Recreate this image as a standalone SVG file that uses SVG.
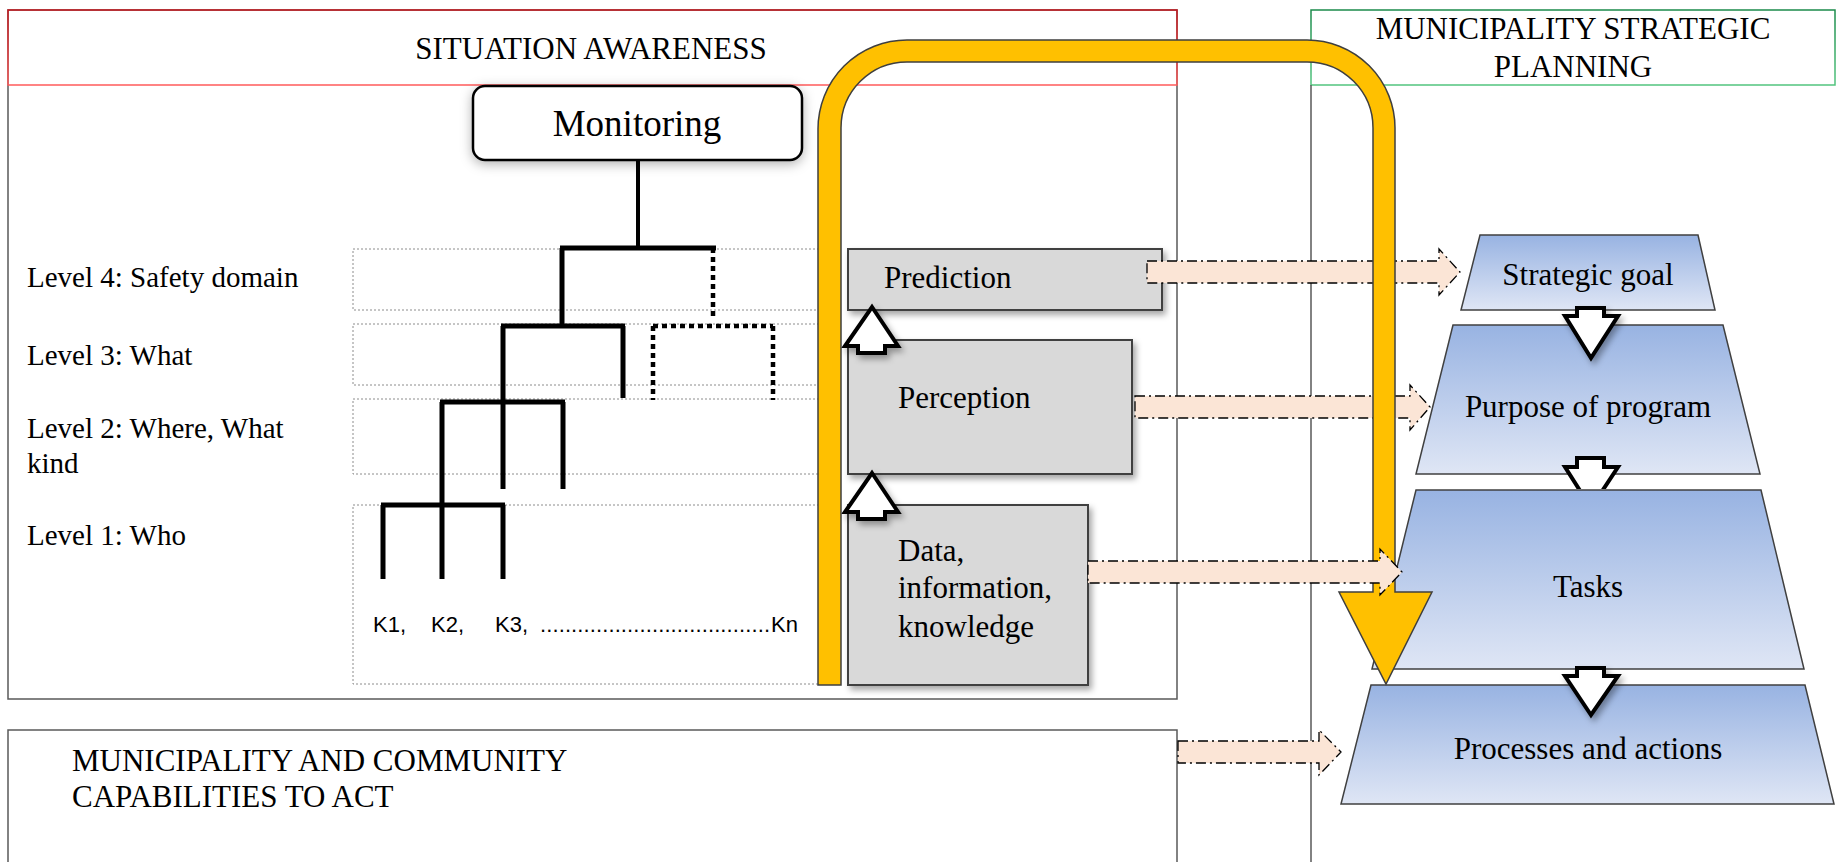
<svg xmlns="http://www.w3.org/2000/svg" width="1843" height="862" viewBox="0 0 1843 862">
<style>
text{font-family:"Liberation Serif","Times New Roman",serif;fill:#000}
.t31{font-size:31px}
.lvl{font-size:29px}
.frame{fill:none;stroke:#595959;stroke-width:1.5}
.band{fill:none;stroke:#8c8c8c;stroke-width:1;stroke-dasharray:2 2}
.tree{fill:none;stroke:#000;stroke-width:5;stroke-linecap:butt}
.dot{fill:none;stroke:#000;stroke-width:4.5;stroke-dasharray:5 4}
.gray{fill:#d9d9d9;stroke:#404040;stroke-width:2}
.trap{fill:url(#blue);stroke:#404040;stroke-width:1.5}
.hollow{fill:#fff;stroke:#000;stroke-width:4;stroke-linejoin:miter}
.peach{fill:#fbe5d6;stroke:#000;stroke-width:1.3;stroke-dasharray:10 4 2 4}
.mid{text-anchor:middle}
</style>
<defs>
<linearGradient id="blue" x1="0" y1="0" x2="0" y2="1">
<stop offset="0" stop-color="#98b3e2"/>
<stop offset="1" stop-color="#dfe6f5"/>
</linearGradient>
<linearGradient id="redg" x1="0" y1="0" x2="0" y2="1">
<stop offset="0" stop-color="#c8161d"/>
<stop offset="1" stop-color="#ff5a5a"/>
</linearGradient>
<linearGradient id="greeng" x1="0" y1="0" x2="0" y2="1">
<stop offset="0" stop-color="#1a8a4a"/>
<stop offset="1" stop-color="#52c47e"/>
</linearGradient>
<filter id="sh" x="-20%" y="-20%" width="150%" height="160%">
<feDropShadow dx="3" dy="4" stdDeviation="3" flood-color="#000" flood-opacity="0.35"/>
</filter>
<filter id="glow" x="-20%" y="-30%" width="140%" height="170%">
<feDropShadow dx="0" dy="3" stdDeviation="6" flood-color="#000" flood-opacity="0.3"/>
</filter>
<clipPath id="clipA2"><rect x="1540" y="440" width="100" height="49"/></clipPath>
</defs>

<g id="frames">
<rect class="frame" x="8" y="10" width="1169" height="689"/>
<rect x="8" y="10" width="1169" height="75" fill="none" stroke="url(#redg)" stroke-width="1.5"/>
<rect x="1311" y="10" width="524" height="75" fill="none" stroke="url(#greeng)" stroke-width="1.5"/>
<line x1="1311" y1="85" x2="1311" y2="862" stroke="#595959" stroke-width="1.5"/>
<rect class="frame" x="8" y="730" width="1169" height="150"/>
</g>

<g id="titles">
<text class="t31 mid" x="591" y="59">SITUATION AWARENESS</text>
<text class="t31 mid" x="1573" y="39">MUNICIPALITY STRATEGIC</text>
<text class="t31 mid" x="1573" y="77">PLANNING</text>
<text class="t31" x="72" y="771">MUNICIPALITY AND COMMUNITY</text>
<text class="t31" x="72" y="807">CAPABILITIES TO ACT</text>
</g>

<g id="levels">
<rect class="band" x="353" y="249" width="467" height="61"/>
<rect class="band" x="353" y="324" width="467" height="61"/>
<rect class="band" x="353" y="399" width="467" height="75"/>
<rect class="band" x="353" y="505" width="467" height="179"/>
<text class="lvl" x="27" y="287">Level 4: Safety domain</text>
<text class="lvl" x="27" y="365">Level 3: What</text>
<text class="lvl" x="27" y="438">Level 2: Where, What</text>
<text class="lvl" x="27" y="473">kind</text>
<text class="lvl" x="27" y="545">Level 1: Who</text>
</g>

<g id="tree">
<path d="M638,160 V248" fill="none" stroke="#000" stroke-width="4"/>
<path class="tree" d="M560,248 H716 M562,248 V326 M501,326 H625 M503,326 V489 M623,326 V398 M440,402 H565 M442,402 V579 M563,402 V489 M381,505 H505 M383,505 V579 M503,505 V579"/>
<path class="dot" d="M713,248 V318 M653,326 H773 M653,326 V400 M773,326 V400"/>
</g>

<g id="k-items">
<text x="373" y="632" style="font-family:'Liberation Sans',Arial,sans-serif;font-size:22px">K1,<tspan x="431">K2,</tspan><tspan x="495">K3,</tspan><tspan x="540" textLength="230" lengthAdjust="spacing">.....................................</tspan><tspan x="771">Kn</tspan></text>
</g>

<g id="monitoring">
<rect x="473" y="86" width="329" height="74" rx="12" fill="#fff" stroke="#000" stroke-width="2.5" filter="url(#glow)"/>
<text class="mid" x="637" y="136" style="font-size:37px">Monitoring</text>
</g>

<g id="prediction">
<rect class="gray" x="848" y="249" width="314" height="61" filter="url(#sh)"/>
<text class="t31" x="884" y="288">Prediction</text>
</g>
<g id="perception">
<rect class="gray" x="848" y="340" width="284" height="134" filter="url(#sh)"/>
<text class="t31" x="898" y="408">Perception</text>
</g>
<g id="data">
<rect class="gray" x="848" y="505" width="240" height="180" filter="url(#sh)"/>
<text class="t31" x="898" y="561">Data,</text>
<text class="t31" x="898" y="598">information,</text>
<text class="t31" x="898" y="637">knowledge</text>
</g>

<g id="strategic-goal">
<polygon class="trap" points="1480,235 1698,235 1715,310 1461,310"/>
<text class="t31 mid" x="1588" y="285">Strategic goal</text>
</g>
<g id="purpose">
<polygon class="trap" points="1453,325 1723,325 1760,474 1416,474"/>
<text class="t31 mid" x="1588" y="417">Purpose of program</text>
</g>
<g id="tasks">
<polygon class="trap" points="1416,490 1761,490 1804,669 1372,669"/>
<text class="t31 mid" x="1588" y="597">Tasks</text>
</g>
<g id="processes">
<polygon class="trap" points="1371,685 1805,685 1834,804 1341,804"/>
<text class="t31 mid" x="1588" y="759">Processes and actions</text>
</g>

<g id="connectors">
<path class="hollow" filter="url(#sh)" d="M872,307 L898,346 H885 V353 H858 V346 H845 Z"/>
<path class="hollow" filter="url(#sh)" d="M872,473 L898,512 H885 V519 H858 V512 H845 Z"/>
<path class="hollow" filter="url(#sh)" d="M1577,308 H1604 V316 H1618 L1591,358 L1565,316 H1577 Z"/>
<g clip-path="url(#clipA2)"><path class="hollow" d="M1577,458 H1604 V467 H1618 L1591,508 L1565,467 H1577 Z"/></g>
<path class="hollow" filter="url(#sh)" d="M1577,668 H1604 V676 H1618 L1591,715 L1565,676 H1577 Z"/>
<path class="peach" d="M1147,261 H1439 V249 L1460,272 L1439,295 V283 H1147 Z"/>
<path class="peach" d="M1135,396 H1410 V385 L1430,407 L1410,430 V418 H1135 Z"/>
<path d="M818,685 V129 A89,89 0 0 1 907,40 H1307 A88,88 0 0 1 1395,128 V592 H1432 L1386,684 L1339,592 H1373 V128 A66,66 0 0 0 1307,62 H907 A66,66 0 0 0 841,128 V685 Z" fill="#ffc000" stroke="#3f3f3f" stroke-width="1.5"/>
<path class="peach" d="M1088,561 H1380 V549 L1402,572 L1380,595 V583 H1088 Z"/>
<path class="peach" d="M1178,741 H1319 V730 L1341,752 L1319,775 V763 H1178 Z"/>
</g>
</svg>
